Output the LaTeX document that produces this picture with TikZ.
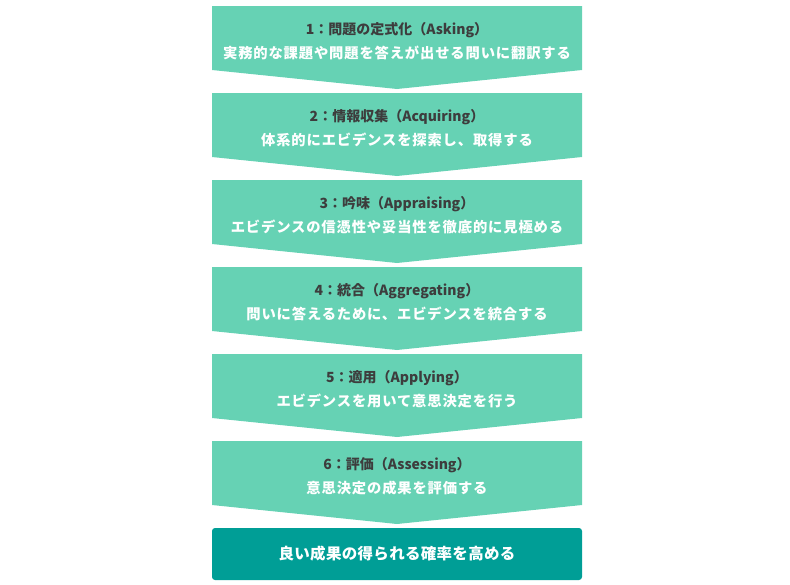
\documentclass[tikz,border=0pt]{standalone}
\usepackage{fontspec}
\setmainfont{Noto Sans CJK JP}
\newfontfamily\spaced{Noto Sans CJK JP}[LetterSpace=6]
\newfontfamily\goalfont{Noto Sans CJK JP}[LetterSpace=2]
\usepackage{tikz}

\definecolor{stepgreen}{HTML}{66D2B4}
\definecolor{goalteal}{HTML}{009E96}
\definecolor{titlegray}{HTML}{3D3D3D}

\begin{document}
\begin{tikzpicture}[x=1pt, y=-1pt]
        \useasboundingbox (0,0) rectangle (790,584);

        % six steps, each a box with a point at the bottom
        \foreach \i/\head/\body in {
            0/{1：問題の定式化（Asking）}/{実務的な課題や問題を答えが出せる問いに翻訳する},
            1/{2：情報収集（Acquiring）}/{体系的にエビデンスを探索し、取得する},
            2/{3：吟味（Appraising）}/{エビデンスの信憑性や妥当性を徹底的に見極める},
            3/{4：統合（Aggregating）}/{問いに答えるために、エビデンスを統合する},
            4/{5：適用（Applying）}/{エビデンスを用いて意思決定を行う},
            5/{6：評価（Assessing）}/{意思決定の成果を評価する}} {
            \pgfmathsetmacro{\top}{6 + 87*\i}
            \fill[stepgreen] (212,\top) -- (582,\top) -- (582,\top+64)
                -- (397,\top+83) -- (212,\top+64) -- cycle;
            \node[text=titlegray, font=\bfseries\fontsize{14}{16}\selectfont]
                (head\i) at (397,\top+24) {\head};
            \node[text=white, font=\spaced\bfseries\fontsize{14.3}{16}\selectfont]
                (body\i) at (397,\top+47) {\body};
        }

        % outcome
        \fill[goalteal, rounded corners=3pt] (212,528) rectangle (582,580);
        \node[text=white, font=\goalfont\bfseries\fontsize{15.5}{18}\selectfont]
            (goal) at (397,554) {良い成果の得られる確率を高める};
    \end{tikzpicture}
\end{document}
